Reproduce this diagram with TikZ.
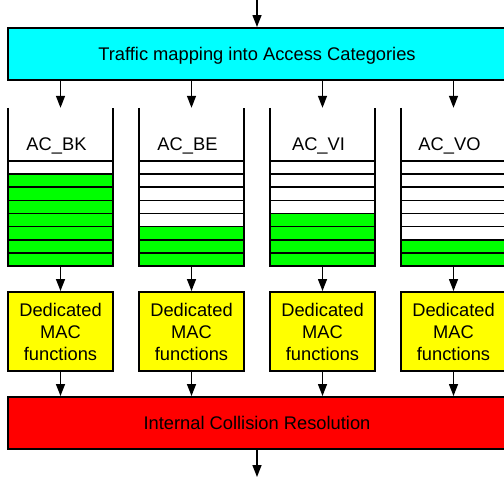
\documentclass[tikz,border=0pt]{standalone}
\usepackage{fontspec}
\setmainfont{Liberation Sans}
\usetikzlibrary{arrows.meta}
\definecolor{mapcyan}{RGB}{0,255,255}
\definecolor{slotgreen}{RGB}{0,255,0}
\definecolor{macyellow}{RGB}{255,255,0}
\definecolor{resred}{RGB}{255,0,0}
\begin{document}
\begin{tikzpicture}[x=1pt,y=-1pt,
  txt/.style={font=\fontsize{18.3}{22}\selectfont},
  bar/.style={draw=black, line width=2pt, txt, inner sep=0pt, align=center},
  mapbox/.style={bar, fill=mapcyan, minimum width=498pt, minimum height=52pt, text depth=0pt},
  resbox/.style={bar, fill=resred, minimum width=498pt, minimum height=52pt},
  macbox/.style={bar, fill=macyellow, minimum width=105pt, minimum height=79pt},
  queue/.style={inner sep=0pt, minimum width=105pt, minimum height=158pt},
  wall/.style={line width=2pt, line join=miter},
  slotline/.style={line width=1.6pt},
  flow/.style={line width=1.4pt, -{Triangle[length=12pt,width=9pt]}},
]
\useasboundingbox (0,0) rectangle (504,479);

% input and output
\coordinate (in) at (257,0);
\coordinate (out) at (257,477);

% mapping stage and collision resolution stage
\node[mapbox] (map) at (257,54) {Traffic mapping into Access Categories};
\node[resbox] (res) at (257,423) {Internal Collision Resolution};
\draw[flow] (in) -- (map.north);
\draw[flow] (res.south) -- (out);

% one queue and one MAC function block per access category
\foreach \i/\qn/\lab/\ng in {0/bk/AC\_BK/7, 1/be/AC\_BE/3, 2/vi/AC\_VI/4, 3/vo/AC\_VO/2}{
  \pgfmathsetmacro\cx{60.5+131*\i}
  \node[queue] (q\qn) at (\cx,187) {};
  \node[txt, anchor=base] (l\qn) at (\cx-4,150) {\lab};
  % occupied slots (filled from the bottom)
  \foreach \k in {1,...,\ng}{
    \fill[slotgreen] (\cx-52.5,{266-13.125*\k}) rectangle (\cx+52.5,{266-13.125*(\k-1)});
  }
  % slot separators
  \foreach \k in {0,...,7}{
    \draw[slotline] (\cx-52.5,{161+13.125*\k}) -- (\cx+52.5,{161+13.125*\k});
  }
  % open-top queue walls
  \draw[wall] (q\qn.north west) -- (q\qn.south west) -- (q\qn.south east) -- (q\qn.north east);
  % MAC function block
  \node[macbox] (m\qn) at (\cx,331.5) {Dedicated\\MAC\\functions};
  % connectors
  \draw[flow] (map.south -| q\qn.north) -- (q\qn.north);
  \draw[flow] (q\qn.south) -- (m\qn.north);
  \draw[flow] (m\qn.south) -- (res.north -| m\qn.south);
}
\end{tikzpicture}
\end{document}
